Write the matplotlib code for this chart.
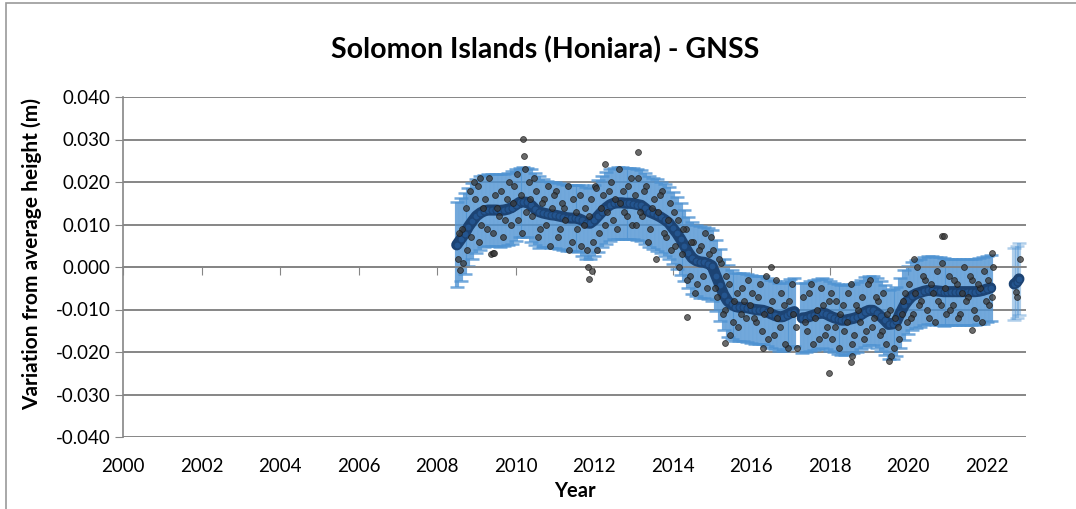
import numpy as np
import matplotlib
matplotlib.use("Agg")
import matplotlib.pyplot as plt
from matplotlib.patches import Rectangle

plt.rcParams['font.family'] = ['Lato', 'DejaVu Sans']

# smoothed series, sampled every 0.1 year, three pieces with data gaps
seg1_years = np.round(np.arange(2008.5, 2017.15, 0.1), 2)
seg2_years = np.round(np.arange(2017.3, 2022.15, 0.1), 2)
seg3_years = np.array([2022.70, 2022.76, 2022.82])

seg1_smooth = [
    0.0052, 0.0065, 0.0078, 0.0095, 0.0108,
    0.0120, 0.0127, 0.0132, 0.0134, 0.0134, 0.0134, 0.0133, 0.0134, 0.0136, 0.0140,
    0.0146, 0.0152, 0.0153, 0.0152, 0.0145, 0.0136, 0.0130, 0.0127, 0.0125, 0.0123,
    0.0122, 0.0120, 0.0118, 0.0116, 0.0115, 0.0115, 0.0114, 0.0110, 0.0104, 0.0103,
    0.0110, 0.0120, 0.0130, 0.0139, 0.0146, 0.0150, 0.0151, 0.0151, 0.0150, 0.0150,
    0.0149, 0.0147, 0.0145, 0.0138, 0.0130, 0.0126, 0.0122, 0.0117, 0.0111, 0.0104,
    0.0092, 0.0080, 0.0066, 0.0050, 0.0034, 0.0021, 0.0015, 0.0012, 0.0011, 0.0008,
    0.0003, -0.0020, -0.0042, -0.0065, -0.0080, -0.0088, -0.0093, -0.0095, -0.0095, -0.0096,
    -0.0098, -0.0100, -0.0101, -0.0102, -0.0105, -0.0110, -0.0114, -0.0117, -0.0117, -0.0113,
    -0.0108, -0.0105,
]
seg2_smooth = [
    -0.0120, -0.0119, -0.0116, -0.0113, -0.0110, -0.0108, -0.0110,
    -0.0115, -0.0119, -0.0122, -0.0125, -0.0125, -0.0123, -0.0121, -0.0118, -0.0112, -0.0106,
    -0.0102, -0.0102, -0.0108, -0.0116, -0.0125, -0.0135, -0.0134, -0.0128, -0.0108, -0.0090,
    -0.0078, -0.0068, -0.0063, -0.0060, -0.0057, -0.0055, -0.0055, -0.0056, -0.0057, -0.0058,
    -0.0058, -0.0058, -0.0058, -0.0058, -0.0058, -0.0058, -0.0058, -0.0058, -0.0057, -0.0055,
    -0.0052, -0.0049,
]
seg3_smooth = [-0.0040, -0.0036, -0.0028]

seg1_err = [
    0.0100, 0.0098, 0.0095, 0.0092, 0.0090,
    0.0088, 0.0086, 0.0085, 0.0085, 0.0085, 0.0085, 0.0085, 0.0085, 0.0085, 0.0085,
    0.0085, 0.0082, 0.0082, 0.0082, 0.0085, 0.0085, 0.0085, 0.0080, 0.0078, 0.0078,
    0.0078, 0.0078, 0.0078, 0.0078, 0.0078, 0.0078, 0.0078, 0.0084, 0.0084, 0.0084,
    0.0084, 0.0084, 0.0084, 0.0084, 0.0084, 0.0084, 0.0084, 0.0084, 0.0084, 0.0084,
    0.0084, 0.0084, 0.0084, 0.0084, 0.0084, 0.0084, 0.0084, 0.0084, 0.0084, 0.0084,
    0.0084, 0.0084, 0.0084, 0.0084, 0.0084, 0.0084, 0.0084, 0.0084, 0.0084, 0.0084,
    0.0084, 0.0084, 0.0084, 0.0084, 0.0084, 0.0082, 0.0080, 0.0080, 0.0080, 0.0080,
    0.0080, 0.0080, 0.0080, 0.0080, 0.0080, 0.0080, 0.0080, 0.0080, 0.0080, 0.0080,
    0.0080, 0.0080,
]
seg2_err = [
    0.0082, 0.0082, 0.0082, 0.0082, 0.0082, 0.0082, 0.0082,
    0.0082, 0.0082, 0.0082, 0.0082, 0.0082, 0.0082, 0.0082, 0.0082, 0.0082, 0.0082,
    0.0082, 0.0082, 0.0082, 0.0082, 0.0082, 0.0082, 0.0082, 0.0082, 0.0082, 0.0082,
    0.0080, 0.0080, 0.0080, 0.0080, 0.0080, 0.0080, 0.0080, 0.0080, 0.0080, 0.0080,
    0.0078, 0.0078, 0.0078, 0.0078, 0.0078, 0.0078, 0.0078, 0.0078, 0.0078, 0.0078,
    0.0078, 0.0078,
]
seg3_err = [0.0085, 0.0085, 0.0085]

# raw GNSS values, two readings per 0.1-year step
seg1_raw_a = [
    0.002, 0.009, 0.014, 0.018, 0.020,
    0.019, 0.010, 0.016, 0.021, 0.008, 0.014, 0.018, 0.011, 0.020, 0.015,
    0.022, 0.017, 0.023, 0.020, 0.012, 0.018, 0.009, 0.016, 0.019, 0.014,
    0.018, 0.009, 0.014, 0.019, 0.006, 0.013, 0.017, 0.010, 0.004, 0.016,
    0.019, 0.008, 0.017, 0.013, 0.020, 0.016, 0.023, 0.018, 0.012, 0.021,
    0.017, 0.021, 0.012, 0.019, 0.009, 0.016, 0.013, 0.018, 0.007, 0.015,
    0.013, 0.011, 0.003, 0.009, -0.002, 0.006, -0.004, 0.005, 0.008, 0.003,
    0.004, -0.007, 0.001, -0.010, -0.004, -0.013, -0.006, -0.011, -0.008, -0.003,
    -0.006, -0.013, -0.004, -0.011, -0.017, -0.008, -0.003, -0.014, -0.009, -0.019,
    -0.004, -0.014,
]
seg1_raw_b = [
    0.008, 0.001, 0.004, 0.007, 0.016,
    0.006, 0.014, 0.009, 0.003, 0.017, 0.012, 0.007, 0.016, 0.010, 0.019,
    0.011, 0.008, 0.013, 0.016, 0.021, 0.007, 0.015, 0.010, 0.005, 0.017,
    0.007, 0.015, 0.011, 0.004, 0.016, 0.009, 0.005, 0.014, 0.012, 0.006,
    0.004, 0.014, 0.010, 0.018, 0.011, 0.009, 0.015, 0.013, 0.019, 0.010,
    0.010, 0.013, 0.018, 0.006, 0.014, 0.002, 0.017, 0.008, 0.011, 0.004,
    0.005, 0.000, 0.009, -0.003, 0.006, -0.006, 0.004, -0.002, -0.005, 0.007,
    -0.005, 0.002, -0.011, -0.002, -0.016, -0.008, -0.014, -0.005, -0.012, -0.009,
    -0.012, -0.007, -0.015, -0.002, -0.010, -0.016, -0.012, -0.006, -0.018, -0.008,
    -0.011, -0.019,
]
seg2_raw_a = [
    -0.007, -0.015, -0.004, -0.012, -0.017, -0.009, -0.014,
    -0.006, -0.014, -0.019, -0.009, -0.013, -0.004, -0.016, -0.010, -0.007, -0.015,
    -0.003, -0.012, -0.008, -0.015, -0.018, -0.010, -0.019, -0.014, -0.011, -0.006,
    -0.004, -0.011, 0.000, -0.008, -0.003, -0.012, -0.006, -0.001, -0.009, -0.005,
    -0.002, -0.009, -0.004, -0.011, 0.000, -0.007, -0.003, -0.012, -0.005, -0.001,
    -0.003, -0.007,
]
seg2_raw_b = [
    -0.013, -0.006, -0.018, -0.010, -0.005, -0.016, -0.008,
    -0.017, -0.008, -0.011, -0.015, -0.006, -0.018, -0.009, -0.013, -0.017, -0.004,
    -0.014, -0.007, -0.016, -0.006, -0.011, -0.021, -0.012, -0.017, -0.008, -0.013,
    -0.012, -0.006, -0.009, -0.002, -0.010, -0.004, -0.013, -0.008, 0.001, -0.011,
    -0.010, -0.003, -0.012, -0.006, -0.008, -0.002, -0.010, -0.004, -0.013, -0.008,
    -0.009, 0.000,
]

# isolated readings / outliers
extra_years = [2010.20, 2010.22, 2012.28, 2013.12, 2011.84, 2011.88, 2008.58, 2009.42,
               2009.46, 2014.37, 2015.34, 2017.97, 2018.55, 2018.57, 2019.52, 2020.85,
               2020.90, 2022.13, 2020.14, 2022.85, 2022.75, 2022.78, 2021.62, 2016.30,
               2016.50, 2012.05, 2011.95, 2009.10]
extra_vals = [0.0301, 0.0262, 0.0243, 0.0270, 0.0000, -0.0028, -0.0007, 0.0033,
              0.0033, -0.0118, -0.0179, -0.0250, -0.0224, -0.0210, -0.0220, 0.0073,
              0.0073, 0.0032, 0.0020, 0.0020, -0.0058, -0.0070, -0.0148, -0.0190,
              0.0000, 0.0185, -0.0010, 0.0210]

year_ticks = list(range(2000, 2023, 2))
height_ticks = [-0.04, -0.03, -0.02, -0.01, 0.0, 0.01, 0.02, 0.03, 0.04]

grey = '#868686'
band_col = '#4F93D2'
cap_col = '#2E7BCB'
line_col = '#1C4373'

fig = plt.figure(figsize=(10.76, 5.09), dpi=100)
ax = fig.add_axes([123 / 1076, 1 - 437 / 509, (1026 - 123) / 1076, 340 / 509])

# error-bar band
for yrs, sm, er, a in [(seg1_years, seg1_smooth, seg1_err, 0.8),
                       (seg2_years, seg2_smooth, seg2_err, 0.8),
                       (seg3_years, seg3_smooth, seg3_err, 0.45)]:
    _, caps, bars = ax.errorbar(yrs, sm, yerr=er, fmt='none', ecolor=band_col,
                                elinewidth=3.0, capsize=5, capthick=1.8, alpha=a, zorder=2)
    for c in caps:
        c.set_color(cap_col)

# smoothed line
for yrs, sm in [(seg1_years, seg1_smooth), (seg2_years, seg2_smooth), (seg3_years, seg3_smooth)]:
    ax.plot(yrs, sm, '-', color=line_col, lw=8, solid_capstyle='round', zorder=3)
    ax.plot(yrs, sm, 'o', ms=5, mfc='#24558F', mec=line_col, mew=0.8, zorder=3)

# raw points
raw_t = np.concatenate([seg1_years + 0.03, seg1_years + 0.07,
                        seg2_years + 0.03, seg2_years + 0.07, extra_years])
raw_v = np.concatenate([seg1_raw_a, seg1_raw_b, seg2_raw_a, seg2_raw_b, extra_vals])
ax.scatter(raw_t, raw_v, s=18, c='#3a3a3a', edgecolors='#1a1a1a', linewidths=0.6,
           alpha=0.75, zorder=4)

ax.set_xlim(2000, 2023)
ax.set_ylim(-0.04, 0.04)
ax.set_yticks(height_ticks)
ax.set_yticklabels([f'{v:.3f}' for v in height_ticks])
ax.yaxis.grid(True, color=grey, lw=1.4)
ax.set_axisbelow(True)

# x axis line crosses at 0, labels at the bottom
ax.spines['bottom'].set_position(('data', 0))
ax.spines['bottom'].set_color(grey)
ax.spines['bottom'].set_linewidth(1.2)
ax.spines['left'].set_color(grey)
ax.spines['left'].set_linewidth(1.2)
ax.spines['top'].set_visible(False)
ax.spines['right'].set_visible(False)
ax.set_xticks(year_ticks)
ax.tick_params(axis='x', direction='out', length=6, color=grey, labelbottom=False)
ax.tick_params(axis='y', direction='out', length=6, color=grey, labelsize=13.5, pad=3)

sec = ax.secondary_xaxis('bottom')
sec.set_xticks(year_ticks)
sec.set_xticklabels([str(y) for y in year_ticks])
sec.tick_params(length=0, labelsize=13.5, pad=15)
sec.spines['bottom'].set_visible(False)

fig.text(0.507, 0.902, 'Solomon Islands (Honiara) - GNSS', ha='center', va='center',
         fontsize=20.5, fontweight='bold')
fig.text(0.030, 0.50, 'Variation from average height (m)', rotation=90,
         ha='center', va='center', fontsize=15, fontweight='bold')
fig.text(0.534, 0.035, 'Year', ha='center', va='center', fontsize=14.5, fontweight='bold')

# chart area border (cut off at right/bottom)
fig.patches.append(Rectangle((6 / 1076, -0.1), 1.2, 1.1 - 2.5 / 509, transform=fig.transFigure,
                             fill=False, edgecolor='#9a9a9a', lw=1.2))

fig.savefig('out.png', dpi=100)
